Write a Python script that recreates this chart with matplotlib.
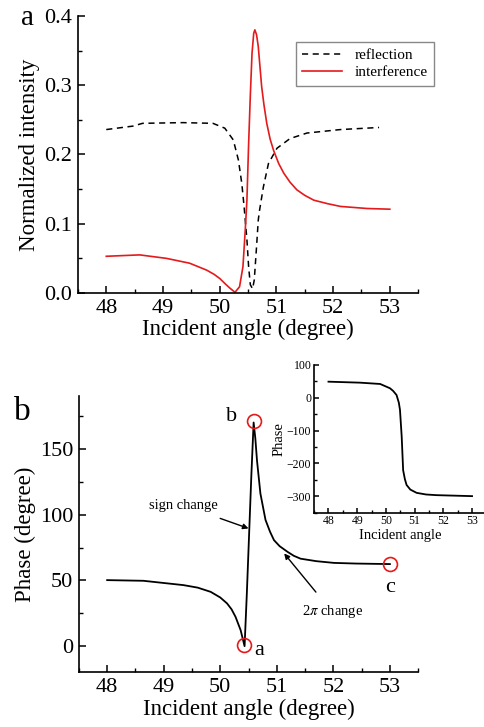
import matplotlib
matplotlib.use("Agg")
import matplotlib.pyplot as plt
from matplotlib.ticker import MultipleLocator, FormatStrFormatter

plt.rcParams['font.family'] = ['Liberation Serif', 'DejaVu Serif']
plt.rcParams['mathtext.fontset'] = 'stix'

# panel a: reflection (dashed) and interference (red)
refl_x = [48.0, 48.47, 48.64, 49.35, 49.88, 50.09, 50.24, 50.33, 50.39, 50.43, 50.48,
          50.51, 50.54, 50.58, 50.61, 50.65, 50.68, 50.70, 50.77, 50.86, 51.01, 51.24,
          51.54, 52.13, 52.81]
refl_y = [0.236, 0.241, 0.245, 0.246, 0.245, 0.238, 0.221, 0.192, 0.158, 0.125, 0.077,
          0.038, 0.012, 0.006, 0.019, 0.067, 0.105, 0.118, 0.153, 0.187, 0.209, 0.223,
          0.231, 0.236, 0.239]

intf_x = [48.0, 48.59, 49.06, 49.47, 49.77, 49.9, 50.0, 50.1, 50.18, 50.27, 50.35, 50.41,
          50.45, 50.48, 50.51, 50.54, 50.57, 50.60, 50.62, 50.65, 50.68, 50.74, 50.78,
          50.83, 50.89, 50.95, 51.04, 51.13, 51.24, 51.36, 51.5, 51.66, 51.9, 52.13,
          52.6, 53.0]
intf_y = [0.053, 0.055, 0.050, 0.043, 0.033, 0.027, 0.021, 0.013, 0.007, 0.001, 0.009, 0.038,
          0.090, 0.134, 0.215, 0.285, 0.346, 0.375, 0.380, 0.373, 0.356, 0.298, 0.272,
          0.245, 0.222, 0.206, 0.187, 0.173, 0.160, 0.149, 0.141, 0.134, 0.129, 0.125,
          0.122, 0.121]

# panel b: phase
ph_x = [48.0, 48.64, 49.35, 49.6, 49.83, 50.0, 50.12, 50.2, 50.27, 50.36, 50.43, 50.47,
        50.51, 50.55, 50.59, 50.62, 50.65, 50.71, 50.80, 50.88, 50.95, 51.05, 51.19, 51.3,
        51.42, 51.7, 52.01, 52.4, 53.0]
ph_y = [50.2, 49.7, 46.4, 44.5, 41.3, 37.0, 32.5, 28.0, 22.3, 12.2, 0.0, 40.0,
        85.0, 130.0, 170.0, 158.0, 141.0, 116.0, 96.0, 87.0, 80.6, 76.0, 71.7, 68.7,
        66.5, 64.6, 63.3, 62.8, 62.4]

# marked points a, b, c
mark_x = [50.42, 50.59, 53.0]
mark_y = [0.8, 171.0, 62.4]
mark_lbl = ['a', 'b', 'c']

# inset: unwrapped phase
in_x = [48.0, 49.1, 49.8, 50.14, 50.25, 50.37, 50.45, 50.49, 50.55, 50.60, 50.66, 50.72,
        50.85, 51.07, 51.4, 51.76, 53.0]
in_y = [49.0, 46.0, 42.0, 29.0, 21.0, 8.4, -15.0, -37.0, -119.0, -221.0, -248.0, -266.0,
        -280.0, -290.0, -295.0, -297.0, -300.0]


def style(ax, size, major, minor):
    for s in ['top', 'right']:
        ax.spines[s].set_visible(False)
    for s in ['left', 'bottom']:
        ax.spines[s].set_linewidth(1.2)
    ax.tick_params(which='major', direction='in', length=major, width=1.1,
                   labelsize=size, pad=4)
    ax.tick_params(which='minor', direction='in', length=minor, width=1.0)


fig = plt.figure(figsize=(4.84, 7.27), dpi=100)

ax1 = fig.add_axes([0.161, 0.597, 0.703, 0.381])
ax1.plot(refl_x, refl_y, color='black', ls=(0, (4, 3)), lw=1.1, label='reflection')
ax1.plot(intf_x, intf_y, color='#e41a1c', lw=1.2, label='interference')
ax1.set_xlim(47.5, 53.5)
ax1.set_ylim(0, 0.4)
ax1.xaxis.set_major_locator(MultipleLocator(1))
ax1.xaxis.set_minor_locator(MultipleLocator(0.5))
ax1.yaxis.set_major_locator(MultipleLocator(0.1))
ax1.yaxis.set_minor_locator(MultipleLocator(0.05))
ax1.yaxis.set_major_formatter(FormatStrFormatter('%.1f'))
style(ax1, 16, 5, 3)
ax1.set_xlabel('Incident angle (degree)', fontsize=16.5, labelpad=1)
ax1.set_ylabel('Normalized intensity', fontsize=16.5, labelpad=3)
leg = ax1.legend(loc='upper right', bbox_to_anchor=(1.07, 0.935), fontsize=11,
                 fancybox=False, framealpha=1, edgecolor='#888888', handlelength=2.6,
                 borderpad=0.45, labelspacing=0.2)
leg.get_frame().set_linewidth(1.0)
fig.text(0.056, 0.966, 'a', fontsize=21, ha='center', va='baseline')

ax2 = fig.add_axes([0.163, 0.075, 0.701, 0.380])
ax2.plot(ph_x, ph_y, color='black', lw=1.3)
ax2.plot(mark_x, mark_y, 'o', ms=10, mfc='none', mec='#e41a1c', mew=1.2)
ax2.set_xlim(47.5, 53.5)
ax2.set_ylim(-20, 190)
ax2.xaxis.set_major_locator(MultipleLocator(1))
ax2.xaxis.set_minor_locator(MultipleLocator(0.5))
ax2.yaxis.set_major_locator(MultipleLocator(50))
ax2.yaxis.set_minor_locator(MultipleLocator(25))
style(ax2, 16, 5, 3)
ax2.set_xlabel('Incident angle (degree)', fontsize=16.5, labelpad=1)
ax2.set_ylabel('Phase (degree)', fontsize=16.5, labelpad=3)
offs = [(0.26, -4), (-0.39, 3.5), (0.0, -18)]
for (x, y, t), (dx, dy) in zip(zip(mark_x, mark_y, mark_lbl), offs):
    ax2.text(x + dx, y + dy, t, fontsize=16, ha='center', va='center')
ax2.annotate('sign change', xy=(50.50, 89.5), xytext=(49.35, 107),
             fontsize=10.5, ha='center', va='center',
             arrowprops=dict(arrowstyle='-|>', color='black', lw=1.0,
                             shrinkA=8, shrinkB=0, mutation_scale=8))
ax2.annotate(r'2$\pi$ change', xy=(51.13, 70.5), xytext=(51.98, 26),
             fontsize=10.5, ha='center', va='center',
             arrowprops=dict(arrowstyle='-|>', color='black', lw=1.0,
                             shrinkA=8, shrinkB=0, mutation_scale=8))
fig.text(0.047, 0.422, 'b', fontsize=24, ha='center', va='baseline')

ax3 = fig.add_axes([0.649, 0.295, 0.356, 0.203])
ax3.plot(in_x, in_y, color='black', lw=1.3)
ax3.set_xlim(47.5, 53.5)
ax3.set_ylim(-350, 100)
ax3.xaxis.set_major_locator(MultipleLocator(1))
ax3.xaxis.set_minor_locator(MultipleLocator(0.5))
ax3.yaxis.set_major_locator(MultipleLocator(100))
ax3.yaxis.set_minor_locator(MultipleLocator(50))
style(ax3, 8.5, 3.5, 2)
ax3.tick_params(pad=2)
ax3.set_xlabel('Incident angle', fontsize=10.5, labelpad=1)
ax3.set_ylabel('Phase', fontsize=10.5, labelpad=1)

fig.savefig('out.png', dpi=100)
